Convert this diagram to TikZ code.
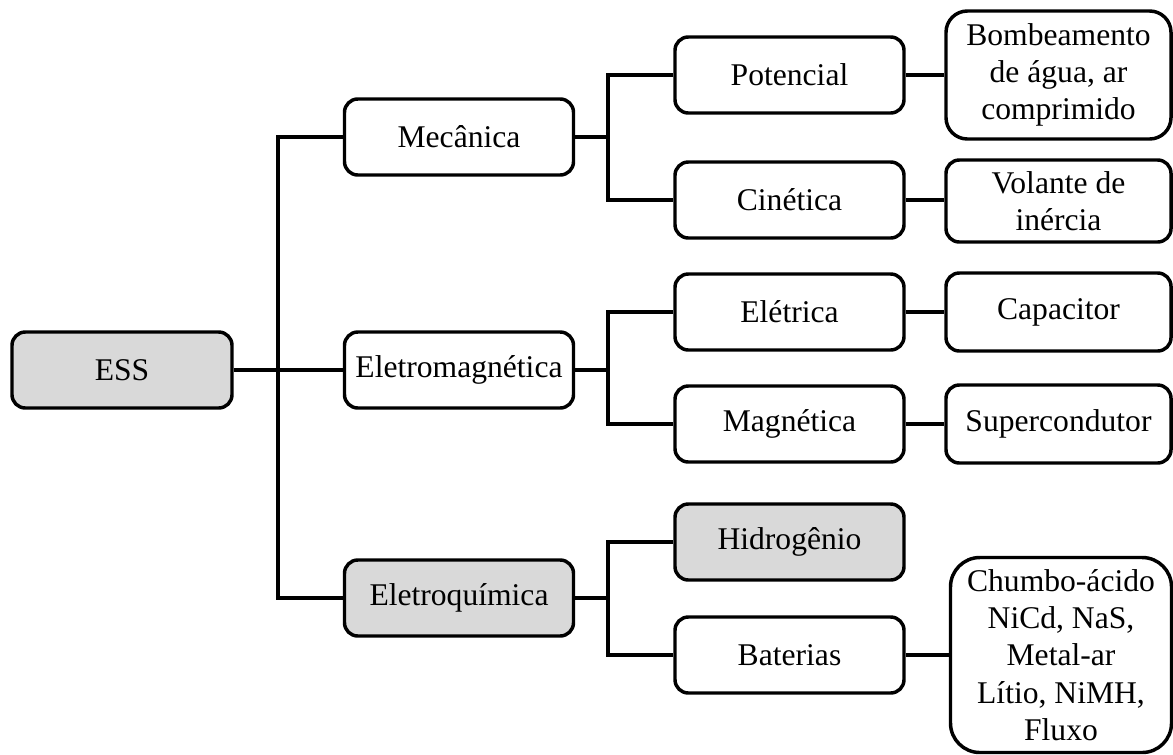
\documentclass[tikz,border=0pt]{standalone}
\usepackage{fontspec}
\setmainfont{Liberation Serif}
\definecolor{boxgray}{HTML}{D9D9D9}
\tikzset{
  box/.style={draw, line width=2.6pt, rounded corners=10pt, align=center, inner sep=0pt,
    font=\fontsize{23.7}{28}\selectfont, fill=white},
  grayfill/.style={fill=boxgray},
  lvlzero/.style={box, minimum width=165pt, minimum height=57pt},
  lvlone/.style={box, minimum width=171.75pt, minimum height=57pt},
  lvltwo/.style={box, minimum width=171.75pt, minimum height=57pt},
  lvlthree/.style={box, minimum width=168.75pt, minimum height=58.5pt},
  conn/.style={line width=2.6pt}
}
\begin{document}
\begin{tikzpicture}[x=0.75pt,y=-0.75pt]
\useasboundingbox (0,0) rectangle (1173,754);
% level 0
\node[lvlzero, grayfill] (ess) at (122,370) {ESS};
% level 1
\node[lvlone] (mec) at (459,137) {Mecânica};
\node[lvlone] (em) at (459,370) {Eletromagnética};
\node[lvlone, grayfill] (eq) at (459,598) {Eletroquímica};
% level 2
\node[lvltwo] (pot) at (789.5,75) {Potencial};
\node[lvltwo] (cin) at (789.5,200) {Cinética};
\node[lvltwo] (ele) at (789.5,312) {Elétrica};
\node[lvltwo] (mag) at (789.5,424) {Magnética};
\node[lvltwo, grayfill] (hid) at (789.5,542) {Hidrogênio};
\node[lvltwo] (bat) at (789.5,655) {Baterias};
% level 3
\node[lvlthree, minimum height=96pt, rounded corners=16pt] (bom) at (1058.5,75) {Bombeamento\\de água, ar\\comprimido};
\node[lvlthree, minimum height=61.5pt] (vol) at (1058.5,201) {Volante de\\inércia};
\node[lvlthree] (cap) at (1058.5,312) {Capacitor};
\node[lvlthree] (sup) at (1058.5,424) {Supercondutor};
\node[lvlthree, minimum width=165.75pt, minimum height=146.25pt, rounded corners=22pt] (chu) at (1061,655) {Chumbo-ácido\\NiCd, NaS,\\Metal-ar\\Lítio, NiMH,\\Fluxo};
% junction coordinates
\coordinate (t0) at (278,370);
\coordinate (tm) at (608,137);
\coordinate (te) at (608,370);
\coordinate (tq) at (608,598);
% connectors
\draw[conn] (ess.east) -- (em.west);
\draw[conn] (mec.west) -| (t0) |- (eq.west);
\draw[conn] (mec.east) -- (tm);
\draw[conn] (pot.west) -| (tm) |- (cin.west);
\draw[conn] (em.east) -- (te);
\draw[conn] (ele.west) -| (te) |- (mag.west);
\draw[conn] (eq.east) -- (tq);
\draw[conn] (hid.west) -| (tq) |- (bat.west);
\draw[conn] (pot.east) -- (pot.east -| bom.west);
\draw[conn] (cin.east) -- (cin.east -| vol.west);
\draw[conn] (ele.east) -- (ele.east -| cap.west);
\draw[conn] (mag.east) -- (mag.east -| sup.west);
\draw[conn] (bat.east) -- (bat.east -| chu.west);
\end{tikzpicture}
\end{document}
